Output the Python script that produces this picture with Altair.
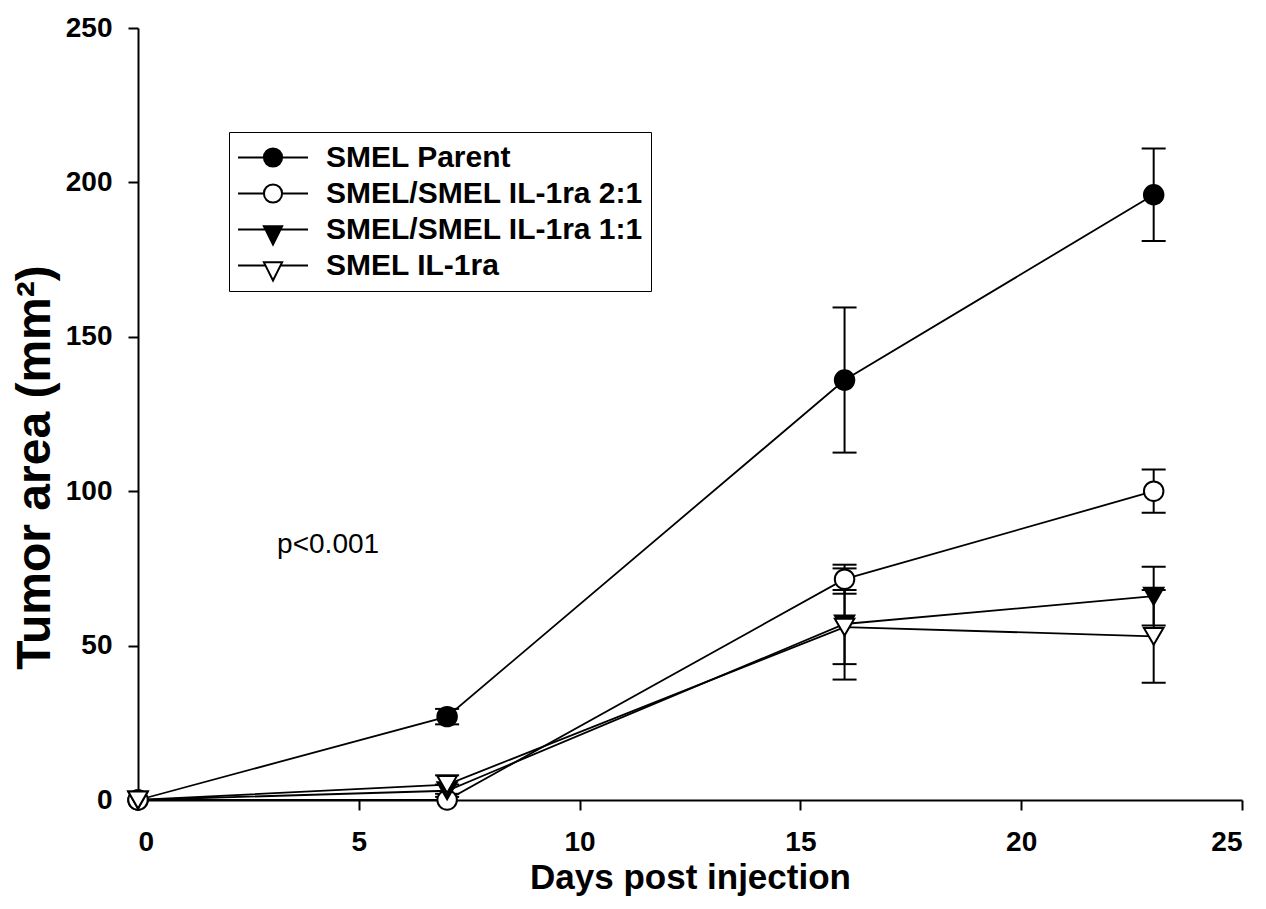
import altair as alt
import pandas as pd

# ---- data ----
days = [0, 7, 16, 23]
series_names = ["SMEL Parent", "SMEL/SMEL IL-1ra 2:1", "SMEL/SMEL IL-1ra 1:1", "SMEL IL-1ra"]
parent = [0, 27, 136, 196]
parent_err = [0, 2.5, 23.5, 15]
ratio21 = [0, 0, 71.5, 100]
ratio21_err = [0, 0, 4.7, 7]
ratio11 = [0, 3, 57, 66]
ratio11_err = [0, 2, 18, 9.5]
il1ra = [0, 5, 56, 53]
il1ra_err = [0, 3, 12, 15]

marker_fills = ["black", "white", "black", "white"]
marker_strokes = ["black", "black", "black", "black"]
marker_shapes = ["circle", "circle", "triangle-down", "triangle-down"]
x_ticks = [0, 5, 10, 15, 20, 25]
y_ticks = [0, 50, 100, 150, 200, 250]
annotation = "p<0.001"

# legend symbols: line + marker (custom svg paths in unit coords)
legend_paths = [
    "M-1,0H-0.26M0.26,0H1M-0.26,0A0.26,0.26 0 1,0 0.26,0A0.26,0.26 0 1,0 -0.26,0Z",
    "M-1,0H-0.26M0.26,0H1M-0.26,0A0.26,0.26 0 1,0 0.26,0A0.26,0.26 0 1,0 -0.26,0Z",
    "M-1,0H-0.2M0.2,0H1M-0.26,-0.09L0.26,-0.09L0,0.43Z",
    "M-1,0H-0.2M0.2,0H1M-0.26,-0.09L0.26,-0.09L0,0.43Z",
]

rows = []
for name, vals, errs in zip(series_names, [parent, ratio21, ratio11, il1ra],
                            [parent_err, ratio21_err, ratio11_err, il1ra_err]):
    for d, v, e in zip(days, vals, errs):
        rows.append({"day": d, "value": v, "lo": v - e, "hi": v + e, "err": e, "series": name})
df = pd.DataFrame(rows)

FONT = "Liberation Sans"

x_enc = alt.X("day:Q", scale=alt.Scale(domain=[0, 25], nice=False),
              axis=alt.Axis(values=x_ticks, title="Days post injection", labelPadding=18,
                            titleFontSize=35, titleY=88, titleBaseline="alphabetic"))
y_enc = alt.Y("value:Q", scale=alt.Scale(domain=[0, 250], nice=False),
              axis=alt.Axis(values=y_ticks, title="Tumor area (mm²)", labelPadding=16,
                            titleFontSize=48, titleAngle=270, titleX=-89, titleY=439,
                            titleAlign="center", titleBaseline="alphabetic"))

base = alt.Chart(df)

lines = base.mark_line(color="black", strokeWidth=1.8).encode(
    x=x_enc, y=y_enc, detail="series:N", order="day:Q")

err_df = base.transform_filter(alt.datum.err > 0)
bars = err_df.mark_rule(color="black", strokeWidth=2).encode(
    x="day:Q", y="lo:Q", y2="hi:Q")
caps_lo = err_df.mark_tick(color="black", orient="horizontal", size=24, thickness=2, opacity=1).encode(
    x="day:Q", y="lo:Q")
caps_hi = err_df.mark_tick(color="black", orient="horizontal", size=24, thickness=2, opacity=1).encode(
    x="day:Q", y="hi:Q")

points = base.mark_point(stroke="black", strokeWidth=2, size=380, opacity=1, filled=False).encode(
    x="day:Q", y="value:Q",
    shape=alt.Shape("series:N", scale=alt.Scale(domain=series_names, range=marker_shapes), legend=None),
    fill=alt.Fill("series:N", scale=alt.Scale(domain=series_names, range=marker_fills), legend=None),
)

leg = alt.Legend(title=None, orient="none", legendX=91, legendY=104,
                 labelFont=FONT, labelFontSize=30, labelFontWeight="bold", labelColor="black",
                 labelLimit=0, labelOffset=17, symbolSize=4900, symbolStrokeColor="black",
                 symbolStrokeWidth=2, clipHeight=35, rowPadding=1, padding=8,
                 strokeColor="black", fillColor="white", symbolOpacity=1)

legend_layer = base.transform_filter(alt.datum.day < 0).mark_point(
    strokeWidth=2, size=4900, opacity=1, filled=False).encode(
    x="day:Q", y="value:Q",
    shape=alt.Shape("series:N", scale=alt.Scale(domain=series_names, range=legend_paths), legend=leg),
    fill=alt.Fill("series:N", scale=alt.Scale(domain=series_names, range=marker_fills), legend=leg),
    stroke=alt.Stroke("series:N", scale=alt.Scale(domain=series_names, range=marker_strokes), legend=leg),
)

text_df = pd.DataFrame({"day": [3.15], "value": [82.5], "label": [annotation]})
text = alt.Chart(text_df).mark_text(font=FONT, fontSize=28, align="left", baseline="middle",
                                    color="black").encode(x="day:Q", y="value:Q", text="label:N")

chart = alt.layer(lines, bars, caps_lo, caps_hi, points, text, legend_layer).resolve_scale(
    shape="independent", fill="independent", stroke="independent"
).properties(
    width=1104, height=772,
    autosize=alt.AutoSizeParams(type="none"),
    padding={"left": 130, "top": 20, "right": 16, "bottom": 96},
).configure_view(stroke=None).configure_axis(
    grid=False, domainColor="black", domainWidth=2, tickColor="black", tickWidth=2, tickSize=10,
    labelFont=FONT, labelFontSize=28, labelFontWeight="bold", labelColor="black",
    titleFont=FONT, titleFontWeight="bold", titleColor="black",
)

chart.save("out.html", embed_options={"renderer": "svg", "actions": False})
